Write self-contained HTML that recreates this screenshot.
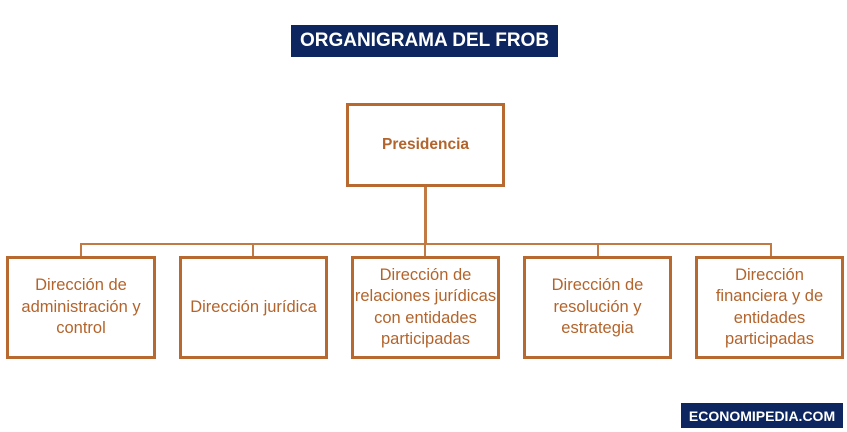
<!DOCTYPE html>
<html><head><meta charset="utf-8"><style>
body{margin:0;width:847px;height:432px;background:#fff;position:relative;overflow:hidden;font-family:"Liberation Sans",sans-serif}
.a{position:absolute}
.box{position:absolute;border:3px solid #b8692f;box-sizing:border-box;display:flex;align-items:center;justify-content:center;text-align:center;color:#b3642c;font-size:16.5px;line-height:21.5px;background:#fff}
.l{position:absolute;background:#c27a45}
</style></head><body>
<div class="a" style="left:291px;top:25px;width:267px;height:32px;background:#0d2660;color:#fff;font-weight:bold;font-size:19px;display:flex;align-items:center;justify-content:center">ORGANIGRAMA DEL FROB</div>
<div class="box" style="left:346px;top:103px;width:159px;height:84px;font-weight:bold;font-size:15.5px">Presidencia</div>
<div class="l" style="left:424px;top:187px;width:3px;height:57px"></div>
<div class="l" style="left:80px;top:243px;width:692px;height:2px"></div>
<div class="l" style="left:80px;top:243px;width:2px;height:14px"></div>
<div class="l" style="left:252px;top:243px;width:2px;height:14px"></div>
<div class="l" style="left:424px;top:243px;width:2px;height:14px"></div>
<div class="l" style="left:597px;top:243px;width:2px;height:14px"></div>
<div class="l" style="left:770px;top:243px;width:2px;height:14px"></div>
<div class="box" style="left:6px;top:256px;width:150px;height:103px">Dirección de<br>administración y<br>control</div>
<div class="box" style="left:179px;top:256px;width:149px;height:103px">Dirección jurídica</div>
<div class="box" style="left:351px;top:256px;width:149px;height:103px">Dirección de<br>relaciones jurídicas<br>con entidades<br>participadas</div>
<div class="box" style="left:523px;top:256px;width:149px;height:103px">Dirección de<br>resolución y<br>estrategia</div>
<div class="box" style="left:695px;top:256px;width:149px;height:103px">Dirección<br>financiera y de<br>entidades<br>participadas</div>
<div class="a" style="left:681px;top:403px;width:162px;height:25px;background:#0d2660;color:#fff;font-weight:bold;font-size:14px;display:flex;align-items:center;justify-content:center">ECONOMIPEDIA.COM</div>
</body></html>
